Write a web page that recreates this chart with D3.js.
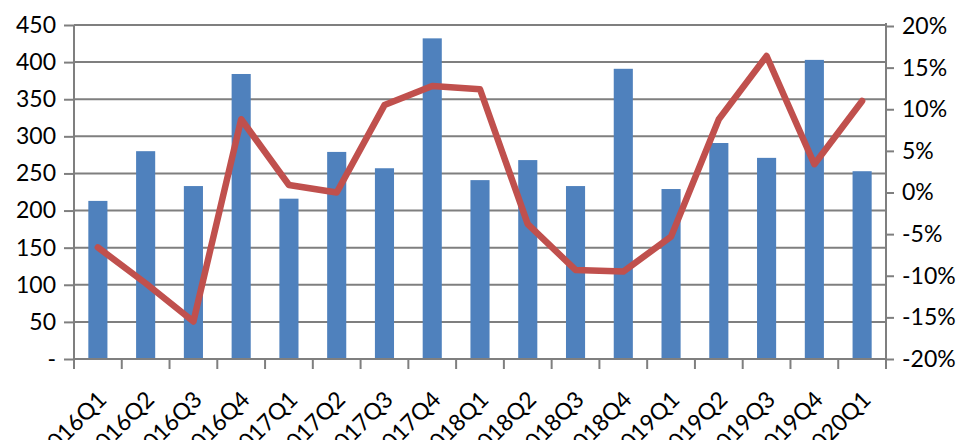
<!DOCTYPE html>
<html><head><meta charset="utf-8">
<script src="https://cdn.jsdelivr.net/npm/d3@7"></script>
<style>body{margin:0;background:#fff;}svg{display:block;font-family:Lato,"Open Sans",sans-serif;}</style>
</head><body><svg id="c" width="971" height="440"></svg>
<script>
const categories = ["2016Q1","2016Q2","2016Q3","2016Q4","2017Q1","2017Q2","2017Q3","2017Q4","2018Q1","2018Q2","2018Q3","2018Q4","2019Q1","2019Q2","2019Q3","2019Q4","2020Q1"];
const barValues = [213,280,233,384,216,279,257,432,241,268,233,391,229,291,271,403,253];
const lineValues = [-6.6,-10.9,-15.5,8.8,0.9,0.0,10.5,12.8,12.4,-3.8,-9.3,-9.5,-5.3,8.8,16.4,3.4,11.0];
const leftTicks = [0,50,100,150,200,250,300,350,400,450];
const rightTicks = [-20,-15,-10,-5,0,5,10,15,20];

const svg = d3.select("#c");
const L = 74, R = 886, T = 25, B = 359;
const x = d3.scaleBand().domain(categories).range([L, R]).paddingInner(0.6).paddingOuter(0.3);
const xc = d3.scaleBand().domain(categories).range([L, R]);
const yL = d3.scaleLinear().domain([0, 450]).range([B, T]);
const yR = d3.scaleLinear().domain([-20, 20]).range([B, T + 1]);
const grid = "#7f7f7f";
const txt = "#000";

// gridlines
svg.append("g").selectAll("line").data(leftTicks.filter(d => d > 0)).join("line")
  .attr("x1", L).attr("x2", R).attr("y1", d => yL(d)).attr("y2", d => yL(d))
  .attr("stroke", grid).attr("stroke-width", 2);

// left axis
const gl = svg.append("g").attr("transform", `translate(${L},0)`)
  .call(d3.axisLeft(yL).tickValues(leftTicks).tickSize(10).tickPadding(8).tickFormat(d => d === 0 ? "-" : d));
gl.select(".domain").attr("stroke", grid).attr("stroke-width", 2).attr("d", `M0,${T}V${B + 10}`);
gl.selectAll(".tick line").attr("stroke", grid).attr("stroke-width", 2);
gl.selectAll("text").attr("font-size", 23).attr("fill", txt).attr("font-family", "Lato");

// right axis
const gr = svg.append("g").attr("transform", `translate(${R},0)`)
  .call(d3.axisRight(yR).tickValues(rightTicks).tickSize(8).tickPadding(8).tickFormat(d => d + "%"));
gr.select(".domain").attr("stroke", grid).attr("stroke-width", 2).attr("d", `M0,${T - 2}V${B + 8}`);
gr.selectAll(".tick line").attr("stroke", grid).attr("stroke-width", 2);
gr.selectAll("text").attr("font-size", 23).attr("fill", txt).attr("font-family", "Lato");

// bars
svg.append("g").selectAll("rect").data(categories).join("rect")
  .attr("x", (d) => x(d)).attr("width", x.bandwidth())
  .attr("y", (d, i) => yL(barValues[i])).attr("height", (d, i) => B - yL(barValues[i]))
  .attr("fill", "#4F81BD");

// bottom axis
const gb = svg.append("g").attr("transform", `translate(0,${B})`);
gb.append("line").attr("x1", L).attr("x2", R).attr("stroke", grid).attr("stroke-width", 2);
gb.selectAll("line.t").data(d3.range(categories.length + 1)).join("line").attr("class", "t")
  .attr("x1", i => L + i * xc.step()).attr("x2", i => L + i * xc.step())
  .attr("y1", 0).attr("y2", 10).attr("stroke", grid).attr("stroke-width", 2);
gb.selectAll("text").data(categories).join("text")
  .attr("transform", d => `translate(${xc(d) + xc.bandwidth() / 2 + 10},${42}) rotate(-45)`)
  .attr("text-anchor", "end").attr("font-size", 23).attr("fill", txt).attr("font-family", "Lato")
  .text(d => d);

// line
const line = d3.line().x((d, i) => xc(categories[i]) + xc.bandwidth() / 2).y(d => yR(d));
svg.append("path").datum(lineValues).attr("d", line).attr("fill", "none")
  .attr("stroke", "#C0504D").attr("stroke-width", 6.5).attr("stroke-linejoin", "round").attr("stroke-linecap", "round");
</script></body></html>
